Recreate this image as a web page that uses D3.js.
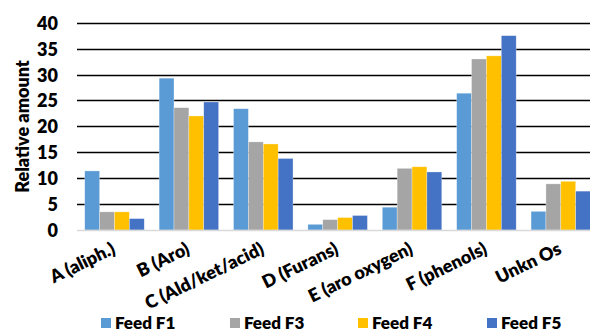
<!DOCTYPE html>
<html>
<head>
<meta charset="utf-8">
<script src="https://cdn.jsdelivr.net/npm/d3@7"></script>
<style>
  html, body { margin: 0; padding: 0; background: #fff; }
  svg { display: block; }
  text { font-family: Lato, "Open Sans", sans-serif; font-weight: 800; fill: #000; }
</style>
</head>
<body>
<svg id="chart" width="590" height="331"></svg>
<script>
// Product groups on the x axis
const categories = ["A (aliph.)", "B (Aro)", "C (Ald/ket/acid)", "D (Furans)", "E (aro oxygen)", "F (phenols)", "Unkn Os"];
// Feed series
const seriesNames = ["Feed F1", "Feed F3", "Feed F4", "Feed F5"];
const feedF1 = [11.4, 29.3, 23.4, 1.1, 4.4, 26.4, 3.6];
const feedF3 = [3.5, 23.6, 17.0, 2.0, 11.9, 33.0, 8.9];
const feedF4 = [3.5, 22.0, 16.6, 2.4, 12.2, 33.6, 9.4];
const feedF5 = [2.2, 24.7, 13.8, 2.8, 11.2, 37.5, 7.5];
const yTicks = [0, 5, 10, 15, 20, 25, 30, 35, 40];
const colors = ["#5B9BD5", "#A5A5A5", "#FFC000", "#4472C4"];

const seriesValues = [feedF1, feedF3, feedF4, feedF5];
const rows = categories.map((c, i) => ({
  category: c,
  values: seriesNames.map((s, j) => ({ series: s, value: seriesValues[j][i] }))
}));

const svg = d3.select("#chart");

const x = d3.scaleBand()
  .domain(categories)
  .range([77.3, 598])
  .paddingInner(0.2)
  .paddingOuter(0.1);

const xInner = d3.scaleBand()
  .domain(seriesNames)
  .range([0, x.bandwidth()])
  .padding(0);

const y = d3.scaleLinear().domain([0, 40]).range([230, 22.7]);
const color = d3.scaleOrdinal().domain(seriesNames).range(colors);

// Horizontal gridlines
svg.append("g")
  .selectAll("line")
  .data(yTicks.filter(t => t > 0))
  .join("line")
  .attr("x1", 77)
  .attr("x2", 598)
  .attr("y1", d => Math.round(y(d)) + 0.5)
  .attr("y2", d => Math.round(y(d)) + 0.5)
  .attr("stroke", "#000")
  .attr("stroke-width", 1.4);

// Bars
const groups = svg.append("g")
  .selectAll("g")
  .data(rows)
  .join("g")
  .attr("transform", d => `translate(${x(d.category)},0)`);

groups.selectAll("rect")
  .data(d => d.values)
  .join("rect")
  .attr("x", d => xInner(d.series))
  .attr("width", xInner.bandwidth())
  .attr("y", d => y(d.value))
  .attr("height", d => y(0) - y(d.value))
  .attr("fill", d => color(d.series))
  .attr("stroke", "#fff")
  .attr("stroke-opacity", 0.5)
  .attr("stroke-width", 0.6);

// Zero baseline
svg.append("line")
  .attr("x1", 77).attr("x2", 598)
  .attr("y1", y(0) + 0.5).attr("y2", y(0) + 0.5)
  .attr("stroke", "#D9D9D9")
  .attr("stroke-width", 1.5);

// Y axis tick labels
const yAxis = d3.axisLeft(y).tickValues(yTicks).tickSize(0).tickPadding(0);
const yg = svg.append("g")
  .attr("transform", "translate(58,0)")
  .call(yAxis);
yg.select(".domain").remove();
yg.selectAll("text")
  .attr("dy", "0.36em")
  .style("font-size", "18px")
  .style("font-family", "Lato, sans-serif")
  .style("font-weight", "800")
  .attr("fill", "#000");

// Y axis title
svg.append("text")
  .attr("transform", "translate(28.5,126.5) rotate(-90)")
  .attr("text-anchor", "middle")
  .style("font-size", "18px")
  .text("Relative amount");

// X axis category labels, rotated
const xAxis = d3.axisBottom(x).tickSize(0).tickPadding(0);
const xg = svg.append("g")
  .call(xAxis);
xg.select(".domain").remove();
xg.selectAll(".tick")
  .attr("transform", d => `translate(${x(d) + x.bandwidth() / 2 + 2},253)`);
xg.selectAll("text")
  .attr("y", 0)
  .attr("dy", 0)
  .attr("text-anchor", "end")
  .attr("transform", "rotate(-26)")
  .style("font-size", "18px")
  .style("font-family", "Lato, sans-serif")
  .style("font-weight", "800")
  .attr("fill", "#000");

// Legend
const legendX = [101, 230, 358, 487];
const legend = svg.append("g")
  .selectAll("g")
  .data(seriesNames)
  .join("g")
  .attr("transform", (d, i) => `translate(${legendX[i]},318)`);
legend.append("rect")
  .attr("width", 10)
  .attr("height", 10)
  .attr("fill", d => color(d));
legend.append("text")
  .attr("x", 14)
  .attr("y", 10.5)
  .style("font-size", "17px")
  .text(d => d);
</script>
</body>
</html>
